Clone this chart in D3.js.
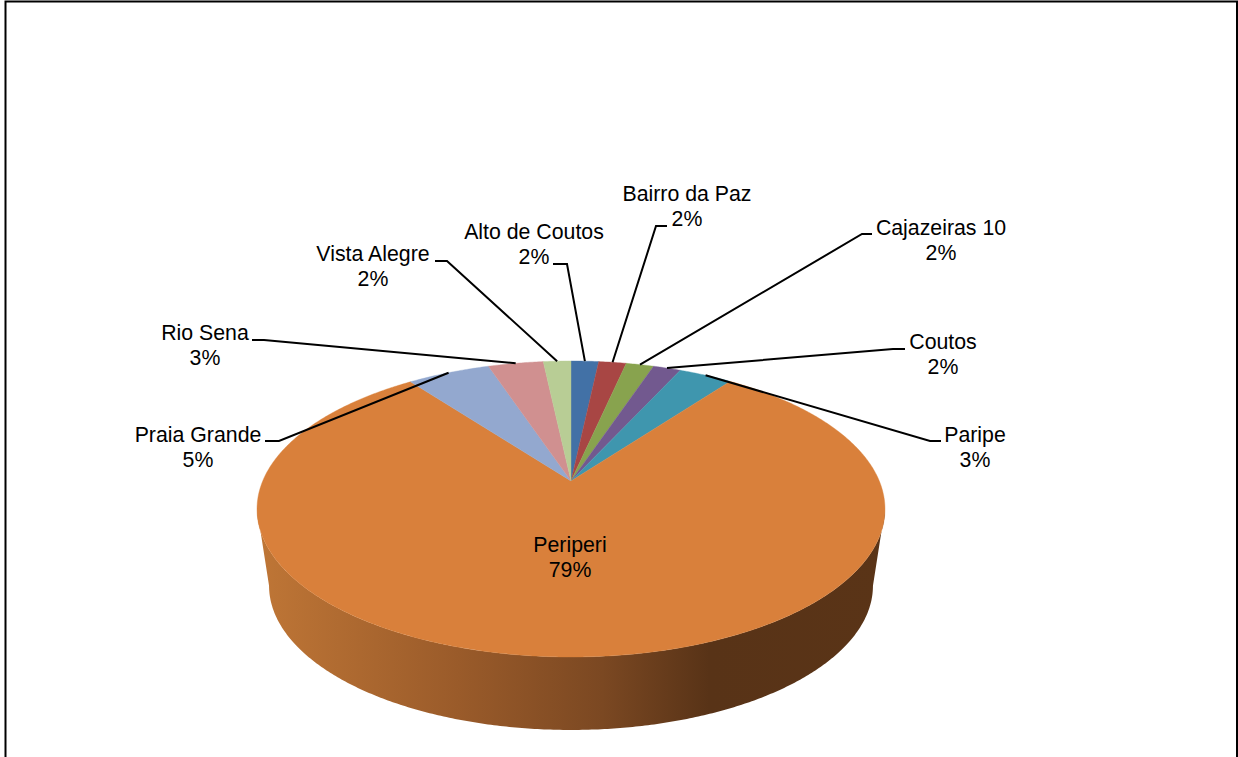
<!DOCTYPE html>
<html>
<head>
<meta charset="utf-8">
<script src="https://cdn.jsdelivr.net/npm/d3@7"></script>
<style>
  html, body { margin: 0; padding: 0; background: #fff; overflow: hidden; }
  svg { display: block; }
  text { font-family: "Liberation Sans", Arial, sans-serif; font-size: 21.3px; fill: #000; }
</style>
</head>
<body>
<svg id="chart" width="1238" height="757"></svg>
<script>
// Neighbourhood shares, in percent, clockwise from twelve o'clock.
const categories = ["Alto de Coutos", "Bairro da Paz", "Cajazeiras 10", "Coutos", "Paripe",
                    "Periperi", "Praia Grande", "Rio Sena", "Vista Alegre"];
const shares = [1.7, 1.7, 1.7, 1.7, 3.3, 79.4, 5.1, 3.4, 1.7];
const sliceColors = ["#4271a6", "#a84644", "#88a34e", "#72598f", "#3f96ae",
                     "#d9803b", "#93a8cf", "#d09090", "#b8cd95"];

// Label layout: centre of the name line, and the elbow of each leader line.
const labelCentres = [[534, 232], [687, 194], [941, 228], [943, 342], [975, 435],
                      [570, 545], [198, 435], [205, 333], [373, 254]];
const leaderElbows = [[567, 264, 553], [656, 226, 667], [862, 234, 872], [893, 349, 905], [930, 441, 941],
                      null, [279, 441, 265], [264, 340, 252], [447, 261, 435]];

const svg = d3.select("#chart");
const defs = svg.append("defs");

// Perspective projection of the tilted disc: v runs away from the viewer.
const tilt = 0.1892;
const discTop = { cx: 571, cy: 481, rx: 308.3, ry: 142.7 };
const discBottom = { cx: 571, cy: 558.4, rx: 296.5, ry: 139.1 };
const project = (disc, angle) => {
  const u = Math.sin(angle), v = Math.cos(angle), w = 1 + tilt * v;
  return [disc.cx + disc.rx * u / w, disc.cy - disc.ry * v / w];
};
const path = d3.line();
const arcAngles = (a0, a1) => {
  const n = Math.max(2, Math.ceil(Math.abs(a1 - a0) / (Math.PI / 360)));
  return d3.range(n + 1).map(i => a0 + (a1 - a0) * i / n);
};

const pie = d3.pie().sort(null).value(d => d)(shares);

// Side wall: the visible front band between the tangent points of the two rims.
const tangent = Math.PI / 2 + Math.asin(tilt);
const front = arcAngles(tangent, 2 * Math.PI - tangent);
const wall = defs.append("linearGradient").attr("id", "wallShade")
  .attr("gradientUnits", "userSpaceOnUse")
  .attr("x1", 257).attr("x2", 885).attr("y1", 0).attr("y2", 0);
[[0, "#bf7636"], [0.32, "#9a5b2a"], [0.55, "#7b4822"], [0.72, "#583317"], [1, "#5a3417"]]
  .forEach(([o, c]) => wall.append("stop").attr("offset", o).attr("stop-color", c));
svg.append("path")
  .attr("d", path([...front.map(a => project(discTop, a)),
                   ...front.slice().reverse().map(a => project(discBottom, a))]) + "Z")
  .attr("fill", "url(#wallShade)");

// Top face slices.
svg.append("g").selectAll("path").data(pie).join("path")
  .attr("d", d => path([[discTop.cx, discTop.cy],
                        ...arcAngles(d.startAngle, d.endAngle).map(a => project(discTop, a))]) + "Z")
  .attr("fill", (d, i) => sliceColors[i])
  .attr("stroke", (d, i) => sliceColors[i])
  .attr("stroke-width", 0.4);

// Leader lines from the rim at each slice's mid-angle to its label.
svg.append("g").selectAll("path").data(pie.filter((d, i) => leaderElbows[i])).join("path")
  .attr("d", d => {
    const [ex, ey, tx] = leaderElbows[d.index];
    return path([project(discTop, (d.startAngle + d.endAngle) / 2), [ex, ey], [tx, ey]]);
  })
  .attr("fill", "none").attr("stroke", "#000").attr("stroke-width", 2);

// Two-line labels: name, then the rounded share.
const labels = svg.append("g").selectAll("text").data(pie).join("text")
  .attr("text-anchor", "middle");
labels.append("tspan")
  .attr("x", d => labelCentres[d.index][0]).attr("y", d => labelCentres[d.index][1] + 7)
  .text(d => categories[d.index]);
labels.append("tspan")
  .attr("x", d => labelCentres[d.index][0]).attr("y", d => labelCentres[d.index][1] + 32)
  .text(d => d3.format(".0f")(d.value) + "%");

// Chart frame, running off the bottom of the page.
svg.append("rect").attr("x", 5.5).attr("y", 1.5).attr("width", 1231.5).attr("height", 800)
  .attr("fill", "none").attr("stroke", "#000").attr("stroke-width", 2);
</script>
</body>
</html>
